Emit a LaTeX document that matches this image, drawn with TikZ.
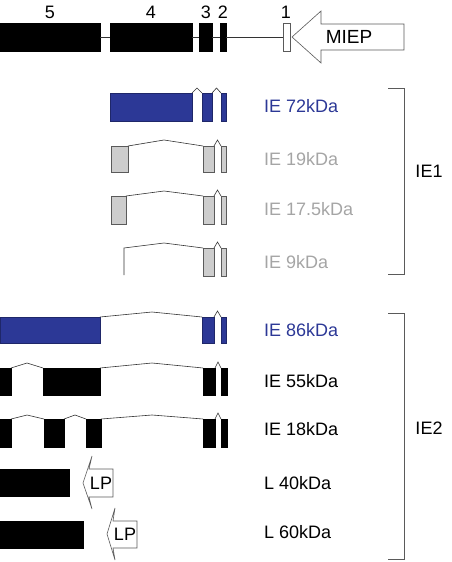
\documentclass[tikz,border=0pt]{standalone}
\usepackage{fontspec}
\setmainfont{Liberation Sans}
\usetikzlibrary{calc}
\definecolor{ieblue}{RGB}{44,56,150}
\definecolor{gfill}{RGB}{205,205,205}
\definecolor{gline}{RGB}{90,90,90}
\definecolor{gtext}{RGB}{165,165,165}
\newcommand\ex[6]{%
  \pgfmathsetmacro\exw{#5-#3}\pgfmathsetmacro\exh{#6-#4}%
  \node[#1, minimum width=\exw pt, minimum height=\exh pt] (#2) at ({(#3+#5)/2},{(#4+#6)/2}) {};}
\begin{document}
\begin{tikzpicture}[x=1pt,y=-1pt,
  box/.style={rectangle, inner sep=0pt, outer sep=0pt, line width=0.5pt},
  bk/.style={box, fill=black, draw=black},
  bl/.style={box, fill=ieblue, draw=ieblue!70!black},
  gr/.style={box, fill=gfill, draw=gline},
  wh/.style={box, fill=white, draw=gline},
  intron/.style={draw=black!80, line width=0.6pt},
  lbl/.style={anchor=west, inner sep=0pt, font=\fontsize{18}{21}\selectfont},
  num/.style={inner sep=0pt, font=\fontsize{18}{21}\selectfont},
  arr/.style={draw=gline, fill=white, line width=0.6pt},
  brk/.style={draw=gline, line width=0.7pt}]
\useasboundingbox (0,0) rectangle (451,562);
% top gene
\ex{bk}{e5}{0}{23}{100}{51}
\ex{bk}{e4}{110}{23}{192}{51}
\ex{bk}{e3}{199}{23}{212}{51}
\ex{bk}{e2}{220}{23}{226}{51}
\ex{wh}{e1}{283}{23}{290}{51}
\draw[intron] (e5.east) -- (e4.west) (e4.east) -- (e3.west) (e3.east) -- (e2.west) (e2.east) -- (e1.west);
\node[num] (n5) at (50,12) {5};
\node[num] (n4) at (151,12) {4};
\node[num] (n3) at (206,12) {3};
\node[num] (n2) at (223,12) {2};
\node[num] (n1) at (286,12) {1};
\draw[arr] (292,37) -- (321,11) -- (321,24) -- (404,24) -- (404,50) -- (321,50) -- (321,63) -- cycle;
\node[inner sep=0pt, font=\fontsize{19}{21}\selectfont] (miep) at (349,37) {MIEP};
% IE 72
\ex{bl}{a1}{110}{93}{192}{121}
\ex{bl}{a2}{202}{93}{212}{121}
\ex{bl}{a3}{221}{93}{226}{121}
\draw[intron] (a1.north east) -- ($(a1.north east)!.5!(a2.north west)+(0,-5)$) -- (a2.north west);
\draw[intron] (a2.north east) -- ($(a2.north east)!.5!(a3.north west)+(0,-5)$) -- (a3.north west);
\node[lbl, text=ieblue] (t72) at (264,106) {IE 72kDa};
% IE 19
\ex{gr}{b1}{111}{146}{128}{172}
\ex{gr}{b2}{203}{146}{214}{172}
\ex{gr}{b3}{221}{146}{226}{172}
\draw[intron] (b1.north east) -- (164,140) -- (b2.north west);
\draw[intron] (b2.north east) -- ($(b2.north east)!.5!(b3.north west)+(0,-6)$) -- (b3.north west);
\node[lbl, text=gtext] (t19) at (264,159) {IE 19kDa};
% IE 17.5
\ex{gr}{c1}{111}{196}{126}{224}
\ex{gr}{c2}{203}{196}{214}{224}
\ex{gr}{c3}{221}{196}{226}{224}
\draw[intron] (c1.north east) -- (164,191) -- (c2.north west);
\draw[intron] (c2.north east) -- ($(c2.north east)!.5!(c3.north west)+(0,-6)$) -- (c3.north west);
\node[lbl, text=gtext] (t175) at (264,209) {IE 17.5kDa};
% IE 9
\coordinate (d0) at (124,275);
\coordinate (d1) at (124,248);
\ex{gr}{d2}{203}{248}{214}{276}
\ex{gr}{d3}{221}{248}{226}{276}
\draw[intron] (d0) -- (d1) -- (164,243) -- (d2.north west);
\draw[intron] (d2.north east) -- ($(d2.north east)!.5!(d3.north west)+(0,-6)$) -- (d3.north west);
\node[lbl, text=gtext] (t9) at (264,262) {IE 9kDa};
% IE 86
\ex{bl}{f1}{0}{317}{100}{343}
\ex{bl}{f2}{202}{317}{214}{343}
\ex{bl}{f3}{221}{317}{226}{343}
\draw[intron] (f1.north east) -- (152,312) -- (f2.north west);
\draw[intron] (f2.north east) -- ($(f2.north east)!.5!(f3.north west)+(0,-6)$) -- (f3.north west);
\node[lbl, text=ieblue] (t86) at (264,330) {IE 86kDa};
% IE 55
\ex{bk}{g1}{0}{368}{11}{395}
\ex{bk}{g2}{43}{368}{100}{395}
\ex{bk}{g3}{203}{368}{215}{395}
\ex{bk}{g4}{221}{368}{227}{395}
\draw[intron] (g1.north east) -- (27,363) -- (g2.north west);
\draw[intron] (g2.north east) -- (152,363) -- (g3.north west);
\draw[intron] (g3.north east) -- ($(g3.north east)!.5!(g4.north west)+(0,-6)$) -- (g4.north west);
\node[lbl] (t55) at (264,381) {IE 55kDa};
% IE 18
\ex{bk}{h1}{0}{419}{11}{447}
\ex{bk}{h2}{44}{419}{64}{447}
\ex{bk}{h3}{86}{419}{101}{447}
\ex{bk}{h4}{203}{419}{215}{447}
\ex{bk}{h5}{221}{419}{227}{447}
\draw[intron] (h1.north east) -- (27,415) -- (h2.north west);
\draw[intron] (h2.north east) -- (75,415) -- (h3.north west);
\draw[intron] (h3.north east) -- (152,415) -- (h4.north west);
\draw[intron] (h4.north east) -- ($(h4.north east)!.5!(h5.north west)+(0,-6)$) -- (h5.north west);
\node[lbl] (t18) at (264,429) {IE 18kDa};
% L 40
\ex{bk}{k1}{0}{469}{69}{496}
\draw[arr] (83,483) -- (92,456) -- (89,469) -- (113,469) -- (113,497) -- (89,497) -- (92,509) -- cycle;
\node[inner sep=0pt, font=\fontsize{18}{20}\selectfont] (lp1) at (101,483) {LP};
\node[lbl] (t40) at (264,483) {L 40kDa};
% L 60
\ex{bk}{m1}{0}{521}{83}{548}
\draw[arr] (107,534) -- (115,508) -- (113,521) -- (137,521) -- (137,548) -- (113,548) -- (115,560) -- cycle;
\node[inner sep=0pt, font=\fontsize{18}{20}\selectfont] (lp2) at (125,534) {LP};
\node[lbl] (t60) at (264,532) {L 60kDa};
% brackets
\draw[brk] (388,88) -- (404,88) -- (404,274) -- (388,274);
\draw[brk] (388,313) -- (404,313) -- (404,559) -- (388,559);
\node[num] (ie1) at (429,171) {IE1};
\node[num] (ie2) at (429,428) {IE2};
\end{tikzpicture}
\end{document}
